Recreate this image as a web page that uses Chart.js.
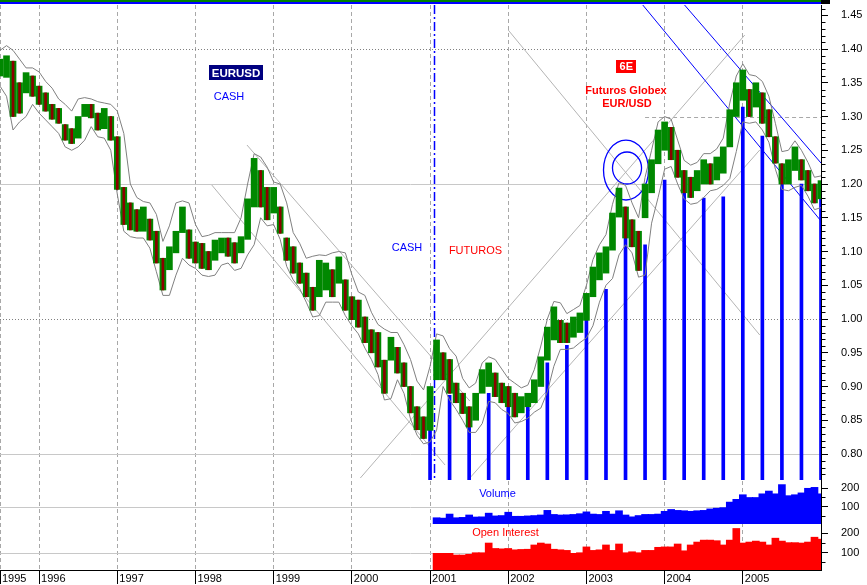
<!DOCTYPE html>
<html><head><meta charset="utf-8">
<script src="https://cdn.jsdelivr.net/npm/chart.js@4.4.1/dist/chart.umd.min.js"></script>
<style>html,body{margin:0;padding:0;background:#fff;}#wrap{width:867px;height:585px;}</style>
</head><body><div id="wrap"><canvas id="c" width="867" height="585"></canvas></div>
<script>
// ---------- DATA ----------
const months = [
'1995-07','1995-08','1995-09','1995-10','1995-11','1995-12',
'1996-01','1996-02','1996-03','1996-04','1996-05','1996-06','1996-07','1996-08','1996-09','1996-10','1996-11','1996-12',
'1997-01','1997-02','1997-03','1997-04','1997-05','1997-06','1997-07','1997-08','1997-09','1997-10','1997-11','1997-12',
'1998-01','1998-02','1998-03','1998-04','1998-05','1998-06','1998-07','1998-08','1998-09','1998-10','1998-11','1998-12',
'1999-01','1999-02','1999-03','1999-04','1999-05','1999-06','1999-07','1999-08','1999-09','1999-10','1999-11','1999-12',
'2000-01','2000-02','2000-03','2000-04','2000-05','2000-06','2000-07','2000-08','2000-09','2000-10','2000-11','2000-12',
'2001-01','2001-02','2001-03','2001-04','2001-05','2001-06','2001-07','2001-08','2001-09','2001-10','2001-11','2001-12',
'2002-01','2002-02','2002-03','2002-04','2002-05','2002-06','2002-07','2002-08','2002-09','2002-10','2002-11','2002-12',
'2003-01','2003-02','2003-03','2003-04','2003-05','2003-06','2003-07','2003-08','2003-09','2003-10','2003-11','2003-12',
'2004-01','2004-02','2004-03','2004-04','2004-05','2004-06','2004-07','2004-08','2004-09','2004-10','2004-11','2004-12',
'2005-01','2005-02','2005-03','2005-04','2005-05','2005-06','2005-07','2005-08','2005-09','2005-10','2005-11','2005-12',
'2006-01'];

const priceHigh = [
1.385,1.390,1.382,1.350,1.365,1.360,1.345,1.335,1.318,1.312,
1.288,1.282,1.300,1.318,1.318,1.305,1.312,1.300,1.270,1.195,
1.172,1.162,1.166,1.148,1.130,1.090,1.107,1.130,1.166,1.132,
1.114,1.112,1.100,1.117,1.120,1.120,1.113,1.122,1.178,1.238,
1.220,1.195,1.195,1.166,1.120,1.107,1.083,1.068,1.047,1.087,
1.083,1.073,1.092,1.058,1.033,1.028,1.003,0.984,0.980,0.939,
0.973,0.958,0.935,0.900,0.870,0.855,0.900,0.969,0.950,0.940,
0.905,0.890,0.870,0.890,0.925,0.935,0.920,0.905,0.900,0.890,
0.885,0.890,0.910,0.944,0.988,1.018,0.998,0.994,1.003,1.009,
1.038,1.077,1.098,1.107,1.157,1.194,1.166,1.147,1.130,1.200,
1.236,1.280,1.292,1.284,1.250,1.220,1.210,1.220,1.236,1.230,
1.240,1.255,1.310,1.350,1.369,1.340,1.350,1.335,1.310,1.270,
1.230,1.236,1.255,1.236,1.220,1.200,1.205];

const priceLow = [
1.360,1.358,1.300,1.305,1.335,1.330,1.318,1.308,1.296,1.290,
1.265,1.260,1.268,1.300,1.298,1.280,1.282,1.265,1.192,1.140,
1.132,1.130,1.130,1.117,1.083,1.043,1.073,1.098,1.128,1.090,
1.083,1.075,1.073,1.087,1.098,1.093,1.083,1.098,1.118,1.166,
1.166,1.147,1.157,1.127,1.087,1.068,1.053,1.033,1.013,1.033,
1.043,1.033,1.053,1.013,0.999,0.988,0.965,0.950,0.929,0.890,
0.939,0.920,0.900,0.861,0.836,0.823,0.835,0.910,0.910,0.890,
0.876,0.860,0.840,0.850,0.890,0.900,0.885,0.876,0.870,0.855,
0.861,0.870,0.876,0.900,0.939,0.969,0.965,0.965,0.973,0.980,
0.998,1.033,1.058,1.068,1.102,1.151,1.120,1.107,1.072,1.150,
1.187,1.230,1.250,1.236,1.210,1.187,1.180,1.190,1.200,1.200,
1.206,1.216,1.255,1.300,1.324,1.300,1.314,1.290,1.270,1.231,
1.200,1.200,1.220,1.206,1.190,1.172,1.178];

const envelopeHigh = [
1.398,1.405,1.398,1.385,1.372,1.372,1.366,1.352,1.342,1.326,
1.318,1.308,1.326,1.328,1.326,1.322,1.320,1.318,1.308,1.275,
1.200,1.180,1.174,1.172,1.155,1.115,1.138,1.172,1.175,1.172,
1.140,1.122,1.124,1.128,1.128,1.128,1.128,1.150,1.200,1.245,
1.240,1.225,1.203,1.200,1.172,1.128,1.112,1.090,1.093,1.095,
1.094,1.098,1.100,1.098,1.066,1.040,1.035,1.010,0.992,0.985,
0.980,0.980,0.962,0.940,0.908,0.895,0.930,0.978,0.975,0.956,
0.945,0.912,0.898,0.905,0.935,0.944,0.940,0.926,0.912,0.905,
0.898,0.902,0.925,0.960,1.000,1.026,1.024,1.008,1.014,1.020,
1.050,1.088,1.110,1.125,1.170,1.202,1.198,1.172,1.150,1.210,
1.250,1.292,1.300,1.296,1.265,1.235,1.228,1.232,1.245,1.245,
1.252,1.268,1.320,1.360,1.378,1.362,1.360,1.352,1.330,1.290,
1.248,1.250,1.264,1.250,1.232,1.210,1.212];

const envelopeLow = [
1.345,1.330,1.280,1.292,1.300,1.318,1.305,1.295,1.285,1.275,
1.255,1.250,1.255,1.265,1.285,1.270,1.268,1.250,1.185,1.130,
1.122,1.120,1.120,1.105,1.070,1.035,1.035,1.065,1.090,1.080,
1.075,1.065,1.063,1.065,1.080,1.083,1.072,1.075,1.095,1.110,
1.150,1.138,1.140,1.118,1.078,1.058,1.045,1.025,1.003,1.005,
1.025,1.025,1.025,1.005,0.990,0.978,0.957,0.940,0.918,0.880,
0.882,0.910,0.890,0.852,0.828,0.815,0.818,0.835,0.900,0.880,
0.866,0.850,0.832,0.832,0.845,0.878,0.876,0.866,0.860,0.846,
0.848,0.853,0.862,0.868,0.892,0.930,0.955,0.955,0.957,0.965,
0.972,0.990,1.025,1.050,1.060,1.095,1.110,1.098,1.062,1.065,
1.142,1.180,1.222,1.226,1.200,1.178,1.170,1.172,1.180,1.190,
1.192,1.198,1.208,1.248,1.292,1.290,1.292,1.280,1.262,1.222,
1.192,1.190,1.195,1.198,1.182,1.162,1.165];

// quarterly marker lines (futures era)
const quarterMonths = ['2001-01','2001-04','2001-07','2001-10','2002-01','2002-04','2002-07','2002-10',
'2003-01','2003-04','2003-07','2003-10','2004-01','2004-04','2004-07','2004-10','2005-01','2005-04','2005-07','2005-10','2006-01'];
const quarterTops = [0.868,0.887,0.847,0.890,0.881,0.870,0.935,0.961,1.009,1.044,1.154,1.110,
1.206,1.216,1.179,1.181,1.314,1.271,1.200,1.200,1.187];

// futures volume & open interest (thousands), monthly from flowStart
const flowStart = '2001-02';
const volume = [
40,38,60,40,42,55,44,45,65,50,
52,70,48,48,50,52,55,80,58,55,
56,58,62,72,60,58,75,60,78,55,
45,52,58,58,60,75,85,80,78,75,
78,80,88,92,95,125,140,165,150,150,
170,185,170,220,160,165,175,200,205,170];
const openInterest = [
97,97,97,88,88,92,100,100,150,122,
120,122,115,117,118,140,150,145,118,115,
112,97,100,130,112,115,140,112,145,100,
105,100,112,112,128,130,130,145,110,140,
155,165,165,162,140,165,225,150,155,160,
155,140,175,160,152,152,150,155,180,170];

const priceTicks = [0.80,0.85,0.90,0.95,1.00,1.05,1.10,1.15,1.20,1.25,1.30,1.35,1.40,1.45];
const volTicks = [100,200];
const oiTicks = [100,200];

// drawn annotations in data units: [monthIndex1, price1, monthIndex2, price2]
const grayTrendLines = [[37.9,1.2578,72.1,0.8785],[32.5,1.1985,68.3,0.7837],[55.3,0.7644,114.3,1.4207],[72.1,0.7644,116.6,1.2504],[78.0,1.4281,116.6,0.9763]];
const blueTrendLines = [[98.4,1.4681,126,1.1452],[104.8,1.4681,126,1.2311]];
const circles = [{m:96.07,v:1.2207,rm:3.45,rv:0.0444},{m:96.23,v:1.2237,rm:2.23,rv:0.0237}];
const futuresStartIndex = 66.65;
// ---------- END DATA ----------

const FONT = "'Liberation Sans', Arial, Helvetica, sans-serif";
const lastIdx = months.length - 1;
const isYear = i => i === 0 || (i !== lastIdx && months[i] && months[i].endsWith('-01'));

const rangeData = priceHigh.map((h, i) => [priceLow[i], h]);
const downData = priceHigh.map((h, i) => (i > 0 && (h + priceLow[i]) < (priceHigh[i-1] + priceLow[i-1])) ? [priceLow[i], h] : null);
const fs = months.indexOf(flowStart);
const volData = volume.map((v, i) => ({x: months[fs + i], y: v}));
const oiData = openInterest.map((v, i) => ({x: months[fs + i], y: v}));
const qData = quarterMonths.map((m, i) => ({x: m, y: quarterTops[i]}));

const refLines = [
  {axis:'y', v:1.40, color:'#808080', dash:[1,2]},
  {axis:'y', v:1.30, color:'#a8a8a8', dash:[4,3], from:99.0},
  {axis:'y', v:1.20, color:'#c8c8c8', dash:[]},
  {axis:'y', v:1.00, color:'#808080', dash:[1,2]},
  {axis:'y', v:0.80, color:'#c8c8c8', dash:[]},
  {axis:'yVol', v:100, color:'#c8c8c8', dash:[]},
  {axis:'yOI', v:100, color:'#c8c8c8', dash:[]}
];

const notes = [
  {t:'EURUSD', m:36.22, v:1.3646, ax:'y', color:'#ffffff', bg:'#000080', bold:true, size:11.5, w:54, h:15},
  {t:'CASH', m:35.14, v:1.3304, ax:'y', color:'#0000ff', size:11},
  {t:'CASH', m:62.46, v:1.1064, ax:'y', color:'#0000ff', size:11},
  {t:'FUTUROS', m:72.97, v:1.1022, ax:'y', color:'#ff0000', size:11},
  {t:'6E', m:96.12, v:1.3738, ax:'y', color:'#ffffff', bg:'#ff0000', bold:true, size:11, w:20, h:13},
  {t:'Futuros Globex', m:96.07, v:1.3388, ax:'y', color:'#ff0000', bold:true, size:11},
  {t:'EUR/USD', m:96.22, v:1.3188, ax:'y', color:'#ff0000', bold:true, size:11},
  {t:'Volume', m:76.35, v:172, ax:'yVol', color:'#0000ff', size:11},
  {t:'Open Interest', m:77.58, v:204, ax:'yOI', color:'#ff0000', size:11}
];

const annotate = {
  id: 'annotate',
  beforeDatasetsDraw(chart) {
    const {ctx, chartArea: a} = chart;
    const sx = chart.scales.x, sy = chart.scales.y;
    ctx.save();
    ctx.fillStyle = '#008000'; ctx.fillRect(0, 0, a.right, 2);
    ctx.fillStyle = '#0000ff'; ctx.fillRect(0, 2, a.right, 2);
    ctx.fillStyle = '#000000'; ctx.fillRect(a.right, 0, 9, 4);
    ctx.beginPath(); ctx.rect(a.left, a.top, a.right - a.left, a.bottom - a.top); ctx.clip();
    ctx.lineWidth = 1;
    refLines.forEach(r => {
      const s = chart.scales[r.axis];
      const py = Math.round(s.getPixelForValue(r.v)) + 0.5;
      const x1 = r.from != null ? sx.getPixelForValue(r.from) : a.left;
      ctx.strokeStyle = r.color; ctx.setLineDash(r.dash);
      ctx.beginPath(); ctx.moveTo(x1, py); ctx.lineTo(a.right, py); ctx.stroke();
    });
    ctx.setLineDash([]);
    ctx.save();
    ctx.beginPath(); ctx.rect(a.left, sy.top, a.right - a.left, sy.bottom - sy.top); ctx.clip();
    const seg = (l, col) => {
      ctx.strokeStyle = col; ctx.lineWidth = 1;
      ctx.beginPath();
      ctx.moveTo(sx.getPixelForValue(l[0]), sy.getPixelForValue(l[1]));
      ctx.lineTo(sx.getPixelForValue(l[2]), sy.getPixelForValue(l[3]));
      ctx.stroke();
    };
    grayTrendLines.forEach(l => seg(l, '#b4b4b4'));
    blueTrendLines.forEach(l => seg(l, '#0000ff'));
    ctx.strokeStyle = '#0000ff'; ctx.lineWidth = 1.3;
    circles.forEach(c => {
      const cx = sx.getPixelForValue(c.m), cy = sy.getPixelForValue(c.v);
      const rx = Math.abs(sx.getPixelForValue(c.m + c.rm) - cx);
      const ry = Math.abs(sy.getPixelForValue(c.v + c.rv) - cy);
      ctx.beginPath(); ctx.ellipse(cx, cy, rx, ry, 0, 0, Math.PI * 2); ctx.stroke();
    });
    const fx = Math.round(sx.getPixelForValue(futuresStartIndex)) + 0.5;
    ctx.strokeStyle = '#0000ff'; ctx.lineWidth = 1.5; ctx.setLineDash([9,3,2,3]);
    ctx.beginPath(); ctx.moveTo(fx, sy.top); ctx.lineTo(fx, sy.getPixelForValue(0.7644)); ctx.stroke();
    ctx.restore();
    ctx.restore();
  },
  afterDraw(chart) {
    const {ctx} = chart;
    const sx = chart.scales.x;
    ctx.save();
    ctx.strokeStyle = '#000'; ctx.lineWidth = 1;
    const sy = chart.scales.y;
    const ax = Math.round(sy.left) + 0.5;
    ctx.beginPath();
    for (let k = 77; k <= 146; k++) {
      if (k % 5 === 0) continue;
      const py = Math.round(sy.getPixelForValue(k / 100)) + 0.5;
      if (py < sy.top || py > sy.bottom) continue;
      ctx.moveTo(ax, py); ctx.lineTo(ax + 4, py);
    }
    ['yVol','yOI'].forEach(id => {
      const s = chart.scales[id];
      [50,150].forEach(v => {
        const py = Math.round(s.getPixelForValue(v)) + 0.5;
        if (py < s.top || py > s.bottom) return;
        ctx.moveTo(ax, py); ctx.lineTo(ax + 4, py);
      });
    });
    ctx.stroke();
    ctx.textAlign = 'center'; ctx.textBaseline = 'middle';
    notes.forEach(n => {
      const s = chart.scales[n.ax];
      const cx = sx.getPixelForValue(n.m), cy = s.getPixelForValue(n.v);
      if (n.bg) { ctx.fillStyle = n.bg; ctx.fillRect(Math.round(cx - n.w/2), Math.round(cy - n.h/2), n.w, n.h); }
      ctx.fillStyle = n.color;
      ctx.font = (n.bold ? 'bold ' : '') + n.size + 'px ' + FONT;
      ctx.fillText(n.t, cx, cy + 0.5);
    });
    ctx.restore();
  }
};

const noPad = s => { s.paddingTop = 0; s.paddingBottom = 0; s.paddingLeft = 0; s.paddingRight = 0; };

const yCommon = (weight, min, max, ticks, fmt) => ({
  type: 'linear', position: 'right', stack: 'panels', stackWeight: weight, min, max,
  afterBuildTicks: s => { s.ticks = ticks.map(v => ({value: v})); },
  grid: {drawOnChartArea: false, drawTicks: true, tickLength: 7, tickColor: '#000', tickWidth: 1},
  border: {display: true, color: '#000', width: 1},
  ticks: {padding: 13, color: '#000', font: {family: FONT, size: 11}, callback: fmt},
  afterFit: s => { s.width = 46; noPad(s); }
});

new Chart(document.getElementById('c'), {
  type: 'bar',
  data: {
    labels: months,
    datasets: [
      {type:'bar', data: qData, yAxisID:'y', backgroundColor:'#0000ff', barThickness:3, grouped:false, order:10},
      {type:'line', data: envelopeHigh, yAxisID:'y', borderColor:'#808080', borderWidth:1, pointRadius:0, tension:0, fill:false, order:6},
      {type:'line', data: envelopeLow, yAxisID:'y', borderColor:'#808080', borderWidth:1, pointRadius:0, tension:0, fill:false, order:5},
      {type:'bar', data: rangeData, yAxisID:'y', backgroundColor:'#008800', barThickness:6, grouped:false, order:3},
      {type:'bar', data: downData, yAxisID:'y', backgroundColor:'#8b0000', barThickness:2, grouped:false, order:2},
      {type:'bar', data: volData, yAxisID:'yVol', backgroundColor:'#0000ff', barThickness:7, grouped:false, order:4},
      {type:'bar', data: oiData, yAxisID:'yOI', backgroundColor:'#ff0000', barThickness:7, grouped:false, order:4}
    ]
  },
  options: {
    responsive: false, animation: false, devicePixelRatio: 1,
    layout: {padding: {top: 5, left: 0, right: 0, bottom: 0}},
    plugins: {legend: {display: false}, tooltip: {enabled: false}},
    scales: {
      x: {
        type: 'category', offset: false,
        grid: {offset: false, drawOnChartArea: true, drawTicks: true,
               color: c => isYear(c.index) ? '#a8a8a8' : 'rgba(0,0,0,0)',
               tickColor: c => isYear(c.index) ? '#000' : 'rgba(0,0,0,0)',
               lineWidth: 1, tickWidth: 1, tickLength: 14, tickBorderDash: [20, 0]},
        border: {display: true, color: '#000', width: 1, dash: [4, 3]},
        ticks: {autoSkip: false, maxRotation: 0, minRotation: 0, align: 'start', padding: -12, labelOffset: 2,
                color: '#000', font: {family: FONT, size: 11},
                callback: (v, i) => isYear(i) ? months[i].slice(0, 4) : ''},
        afterFit: s => { s.height = 15; noPad(s); }
      },
      y: yCommon(475, 0.7615, 1.4652, priceTicks, v => Number(v).toFixed(2)),
      yVol: yCommon(44, 6, 245, volTicks, v => String(v)),
      yOI: yCommon(46, 11, 248, oiTicks, v => String(v))
    }
  },
  plugins: [annotate]
});
</script>
</body></html>
